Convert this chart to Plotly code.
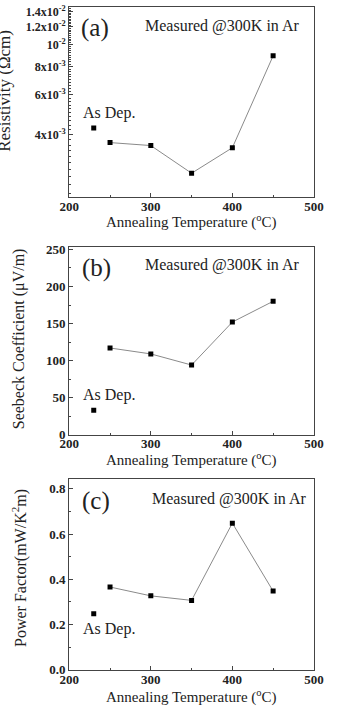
import plotly.graph_objects as go
import math

# ---------------- data ----------------
temps = [250, 300, 350, 400, 450]
asdep_temp = [230]

resistivity = [3.69e-3, 3.58e-3, 2.70e-3, 3.50e-3, 8.93e-3]
resistivity_asdep = [4.28e-3]

seebeck = [117, 109, 94, 152, 180]
seebeck_asdep = [33]

power_factor = [0.366, 0.327, 0.307, 0.648, 0.348]
pf_asdep = [0.248]

x_ticks = [200, 300, 400, 500]
res_tickvals = [4e-3, 6e-3, 8e-3, 1e-2, 1.2e-2, 1.4e-2]
res_ticktext = ["4x10<sup>-3</sup>", "6x10<sup>-3</sup>", "8x10<sup>-3</sup>",
                "10<sup>-2</sup>", "1.2x10<sup>-2</sup>", "1.4x10<sup>-2</sup>"]
seebeck_ticks = [0, 50, 100, 150, 200, 250]
pf_ticks = [0.0, 0.2, 0.4, 0.6, 0.8]
pf_ticktext = ["0.0", "0.2", "0.4", "0.6", "0.8"]

# ---------------- styles ----------------
W, H = 338, 712
FONT = "Liberation Serif"
TXT = "#222222"
AX = "#444444"
LINE = "#8a8a8a"

def bold(lst):
    return ["<b>" + s + "</b>" for s in lst]

def py(p):  # page pixel y -> paper fraction
    return (H - p) / H

def px(p):
    return p / W

xdom = [px(63), px(323)]
doms = {
    "a": [py(196), py(2)],
    "b": [py(437.7), py(247)],
    "c": [py(677.3), py(483)],
}

fig = go.Figure()

def add_panel(xa, ya, xs, ys, xad, yad):
    fig.add_trace(go.Scatter(x=xs, y=ys, mode="lines+markers", xaxis=xa, yaxis=ya,
                             line=dict(color=LINE, width=1),
                             marker=dict(symbol="square", size=5, color="black"),
                             showlegend=False))
    fig.add_trace(go.Scatter(x=xad, y=yad, mode="markers", xaxis=xa, yaxis=ya,
                             marker=dict(symbol="square", size=5, color="black"),
                             showlegend=False))

add_panel("x", "y", temps, resistivity, asdep_temp, resistivity_asdep)
add_panel("x2", "y2", temps, seebeck, asdep_temp, seebeck_asdep)
add_panel("x3", "y3", temps, power_factor, asdep_temp, pf_asdep)

common_axis = dict(showline=True, mirror=True, linecolor=AX, linewidth=1.3,
                   ticks="inside", ticklen=4, tickwidth=1, tickcolor=AX,
                   showgrid=False, zeroline=False,
                   tickfont=dict(family=FONT, size=13, color=TXT))

for i, key in zip(["", "2", "3"], ["y", "y2", "y3"]):
    fig.update_layout({
        "xaxis" + i: dict(common_axis, domain=xdom, anchor=key, range=[200, 500],
                          tickvals=x_ticks, ticktext=bold([str(v) for v in x_ticks]),
                          ticklabelstandoff=-3,
                          minor=dict(tickvals=[250, 350, 450], ticks="inside",
                                     ticklen=2, tickcolor=AX)),
    })

minor_log = [round(v * 1e-4, 6) for v in range(22, 147, 2)]
fig.update_layout(
    yaxis=dict(common_axis, domain=doms["a"], anchor="x", type="log",
               range=[math.log10(2.11e-3), math.log10(1.47e-2)],
               tickvals=res_tickvals, ticktext=bold(res_ticktext),
               tickfont=dict(family=FONT, size=12, color=TXT),
               minor=dict(tickvals=minor_log, ticks="inside", ticklen=2, tickcolor=AX)),
    yaxis2=dict(common_axis, domain=doms["b"], anchor="x2", range=[0, 252.6],
                tickvals=seebeck_ticks, ticktext=bold([str(v) for v in seebeck_ticks]),
                minor=dict(tickvals=[25, 75, 125, 175, 225], ticks="inside",
                           ticklen=2, tickcolor=AX)),
    yaxis3=dict(common_axis, domain=doms["c"], anchor="x3", range=[0, 0.842],
                tickvals=pf_ticks, ticktext=bold(pf_ticktext),
                minor=dict(tickvals=[0.1, 0.3, 0.5, 0.7], ticks="inside",
                           ticklen=2, tickcolor=AX)),
)

ann = []
def txt(text, x, y, size, xref="paper", yref="paper", angle=0, xanchor="center"):
    ann.append(dict(text=text, x=x, y=y, xref=xref, yref=yref, showarrow=False,
                    textangle=angle, xanchor=xanchor, yanchor="middle",
                    font=dict(family=FONT, size=size, color=TXT)))

panels = [("x", "y", "a", 196, 194, 90, 23, 225, 21, 105, 110),
          ("x2", "y2", "b", 437.7, 190.7, 92, 268, 225, 265, 105, 397),
          ("x3", "y3", "c", 677.3, 194.3, 91, 505, 232.5, 503, 105, 636)]
for xa, ya, lab, bot, h, lx, ly, mx, my, ax_, ay in panels:
    xd = xa + " domain"
    yd = ya + " domain"
    txt("(" + lab + ")", (lx - 63) / 260, (bot - ly) / h, 25, xd, yd)
    txt("Measured @300K in Ar", (mx - 63) / 260, (bot - my) / h, 16, xd, yd)
    txt("As Dep.", (ax_ - 63) / 260, (bot - ay) / h, 16, xd, yd)

# axis titles
for yy in [221, 463, 704]:
    txt("Annealing Temperature (<sup>o</sup>C)", px(193), py(yy), 15)
txt("Resistivity (Ωcm)", px(-6), py(87), 17, angle=-90)
txt("Seebeck Coefficient (μV/m)", px(9), py(340), 16, angle=-90)
txt("Power Factor(mW/K<sup>2</sup>m)", px(10), py(573), 16, angle=-90)

fig.update_layout(annotations=ann, width=W, height=H,
                  margin=dict(l=0, r=0, t=0, b=0),
                  paper_bgcolor="white", plot_bgcolor="white",
                  showlegend=False)

fig.write_html("out.html")
